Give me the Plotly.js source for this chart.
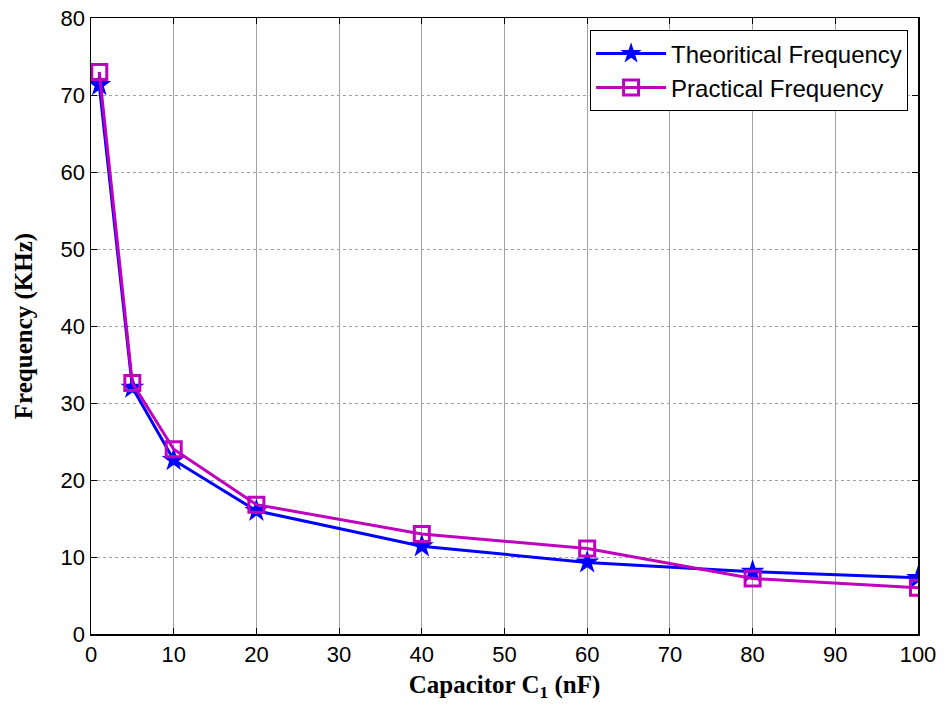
<!DOCTYPE html>
<html>
<head>
<meta charset="utf-8">
<script src="https://cdn.plot.ly/plotly-3.0.1.min.js"></script>
<style>html,body{margin:0;padding:0;background:#fff;}#chart{width:947px;height:709px;}</style>
</head>
<body>
<div id="chart"></div>
<script>
var capacitance = [1, 5, 10, 20, 40, 60, 80, 100];
var theoretical = [71.3, 32.0, 22.6, 16.0, 11.4, 9.3, 8.1, 7.3];
var practical = [73.0, 32.6, 24.0, 16.8, 13.0, 11.1, 7.2, 6.0];
var xTicks = [0, 10, 20, 30, 40, 50, 60, 70, 80, 90, 100];
var yTicks = [0, 10, 20, 30, 40, 50, 60, 70, 80];

var traces = [
  {x: capacitance, y: theoretical, name: 'Theoritical Frequency', mode: 'lines+markers',
   line: {color: '#0000ff', width: 3},
   marker: {symbol: 'star', size: 18, color: '#0000ff', line: {width: 0}}},
  {x: capacitance, y: practical, name: 'Practical Frequency', mode: 'lines+markers',
   line: {color: '#bf00bf', width: 3},
   marker: {symbol: 'square-open', size: 15, color: '#bf00bf', line: {width: 3, color: '#bf00bf'}}}
];

var axisCommon = {
  showline: true, linecolor: '#000', linewidth: 1.5, mirror: 'ticks',
  ticks: 'inside', ticklen: 6, tickcolor: '#000', tickwidth: 1,
  showgrid: true, gridcolor: '#a0a0a0', gridwidth: 1,
  zeroline: false,
  tickfont: {family: 'Arial, Liberation Sans, sans-serif', size: 22, color: '#000'}
};

var layout = {
  width: 947, height: 709,
  margin: {l: 91, r: 29, t: 18, b: 75},
  paper_bgcolor: '#fff', plot_bgcolor: '#fff',
  showlegend: true,
  xaxis: Object.assign({}, axisCommon, {
    range: [0, 100], tickvals: xTicks, ticktext: xTicks.map(String),
    title: {text: 'Capacitor C<sub>1</sub> (nF)', standoff: 9,
            font: {family: 'Times New Roman, Liberation Serif, serif', size: 25, color: '#000', weight: 'bold'}}
  }),
  yaxis: Object.assign({}, axisCommon, {
    range: [0, 80], tickvals: yTicks, ticktext: yTicks.map(String),
    griddash: 'dot',
    title: {text: 'Frequency (KHz)', standoff: 21,
            font: {family: 'Times New Roman, Liberation Serif, serif', size: 25, color: '#000', weight: 'bold'}}
  }),
  legend: {
    x: 0.988, y: 0.98, xanchor: 'right', yanchor: 'top',
    bgcolor: '#fff', bordercolor: '#000', borderwidth: 1,
    font: {family: 'Arial, Liberation Sans, sans-serif', size: 24, color: '#000'},
    itemwidth: 70, tracegroupgap: 0
  }
};

Plotly.newPlot('chart', traces, layout, {displayModeBar: false, staticPlot: true});
</script>
</body>
</html>
